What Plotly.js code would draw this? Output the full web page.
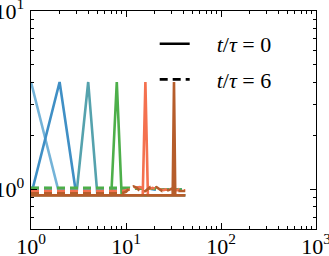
<!DOCTYPE html>
<html>
<head>
<meta charset="utf-8">
<script src="https://cdn.plot.ly/plotly-3.0.1.min.js"></script>
<style>html,body{margin:0;padding:0;background:#fff;}#chart{width:329px;height:256px;}</style>
</head>
<body>
<div id="chart"></div>
<script>
// Site index (x axis)
var sites = [1,2,3,4,5,6,7,8,9,10,11,12,13,14,15,16,17,18,19,20,21,22,23,24,25,26,27,28,29,30,31,32,33,34,35,36,37,38,39,40,41,42];

// Peak positions of each initial condition
var peakLabels = ['1','2','4','8','16','32'];
var colors = ['#74b3d8','#3f8fc5','#55a2ad','#4daf4a','#f4714f','#b65d2b'];

// t/tau = 0 (solid)
var solid1  = [4,0.927,0.927,0.927,0.927,0.927,0.927,0.927,0.927,0.927,0.927,0.927,0.927,0.927,0.927,0.927,0.927,0.927,0.927,0.927,0.927,0.927,0.927,0.927,0.927,0.927,0.927,0.927,0.927,0.927,0.927,0.927,0.927,0.927,0.927,0.927,0.927,0.927,0.927,0.927,0.927,0.927];
var solid2  = [0.927,4,0.927,0.927,0.927,0.927,0.927,0.927,0.927,0.927,0.927,0.927,0.927,0.927,0.927,0.927,0.927,0.927,0.927,0.927,0.927,0.927,0.927,0.927,0.927,0.927,0.927,0.927,0.927,0.927,0.927,0.927,0.927,0.927,0.927,0.927,0.927,0.927,0.927,0.927,0.927,0.927];
var solid4  = [0.927,0.927,0.927,4,0.927,0.927,0.927,0.927,0.927,0.927,0.927,0.927,0.927,0.927,0.927,0.927,0.927,0.927,0.927,0.927,0.927,0.927,0.927,0.927,0.927,0.927,0.927,0.927,0.927,0.927,0.927,0.927,0.927,0.927,0.927,0.927,0.927,0.927,0.927,0.927,0.927,0.927];
var solid8  = [0.927,0.927,0.927,0.927,0.927,0.927,0.927,4,0.927,0.927,0.927,0.927,0.927,0.927,0.927,0.927,0.927,0.927,0.927,0.927,0.927,0.927,0.927,0.927,0.927,0.927,0.927,0.927,0.927,0.927,0.927,0.927,0.927,0.927,0.927,0.927,0.927,0.927,0.927,0.927,0.927,0.927];
var solid16 = [0.927,0.927,0.927,0.927,0.927,0.927,0.927,0.927,0.927,0.927,0.927,0.927,0.927,0.927,0.927,4,0.927,0.927,0.927,0.927,0.927,0.927,0.927,0.927,0.927,0.927,0.927,0.927,0.927,0.927,0.927,0.927,0.927,0.927,0.927,0.927,0.927,0.927,0.927,0.927,0.927,0.927];
var solid32 = [0.927,0.927,0.927,0.927,0.927,0.927,0.927,0.927,0.927,0.927,0.927,0.927,0.927,0.927,0.927,0.927,0.927,0.927,0.927,0.927,0.927,0.927,0.927,0.927,0.927,0.927,0.927,0.927,0.927,0.927,0.927,4,0.927,0.927,0.927,0.927,0.927,0.927,0.927,0.927,0.927,0.927];

// t/tau = 6 (dashed)
var dashed1  = [1.02,1.01,1.01,1.01,1.01,1.01,1.01,1.01,1.01,1.01,1.01,1.01,1.01,1.01,1.01,1.01,1.01,1.01,1.0,1.0,1.0,1.0,1.0,1.0,1.0,1.0,1.0,1.0,1.0,1.0,1.0,1.0,1.0,1.0,1.0,1.0,1.0,1.0,1.0,1.0,1.0,1.0];
var dashed2  = [1.01,1.01,1.01,1.01,1.01,1.01,1.01,1.01,1.01,1.01,1.01,1.01,1.01,1.01,1.01,1.01,1.01,1.01,1.01,1.0,1.0,1.0,1.0,1.0,1.0,1.0,1.0,1.0,1.0,1.0,1.0,1.0,1.0,1.0,1.0,1.0,1.0,1.0,1.0,1.0,1.0,1.0];
var dashed4  = [1.01,1.01,1.01,1.01,1.01,1.01,1.01,1.01,1.01,1.01,1.01,1.01,1.01,1.01,1.01,1.01,1.01,1.01,1.01,1.01,1.0,1.0,1.0,1.0,1.0,1.0,1.0,1.0,1.0,1.0,1.0,1.0,1.0,1.0,1.0,1.0,1.0,1.0,1.0,1.0,0.99,0.99];
var dashed8  = [1.02,1.02,1.02,1.02,1.02,1.02,1.02,1.02,1.02,1.02,1.02,1.01,1.01,1.01,1.01,1.01,1.01,1.01,1.01,1.01,1.01,1.0,1.0,1.0,1.0,1.0,1.0,1.0,1.0,1.0,1.0,1.0,1.0,1.0,1.0,1.0,1.0,1.0,1.0,1.0,1.0,1.0];
var dashed16 = [0.98,0.98,0.98,0.98,0.98,0.98,0.98,0.98,0.98,0.99,1.0,1.02,1.03,1.03,1.02,1.03,1.02,1.01,1.02,1.01,1.0,0.99,1.0,0.99,0.99,1.0,0.99,0.99,1.0,0.99,0.99,1.0,0.99,0.99,0.99,1.0,0.99,0.99,0.99,0.99,0.99,0.99];
var dashed32 = [0.95,0.95,0.95,0.95,0.95,0.95,0.95,0.95,0.95,0.97,1.02,1.04,1.02,0.98,0.97,0.98,1.0,1.03,1.03,1.02,1.03,1.01,0.99,0.98,0.99,0.99,0.99,0.99,1.0,1.01,1.02,1.02,1.01,0.99,0.98,0.98,0.98,0.98,0.98,0.98,0.98,0.98];

var solids = [solid1, solid2, solid4, solid8, solid16, solid32];
var dasheds = [dashed1, dashed2, dashed4, dashed8, dashed16, dashed32];

var xTickVals = [1,10,100,1000];
var xTickText = ['10<sup>0</sup>','10<sup>1</sup>','10<sup>2</sup>','10<sup>3</sup>'];
var yTickVals = [1,10];
var yTickText = ['10<sup>0</sup>','10<sup>1</sup>'];
var legendLabels = ['\u00a0\u00a0\u00a0\u00a0<i>t</i>/<i>τ</i> = 0','\u00a0\u00a0\u00a0\u00a0<i>t</i>/<i>τ</i> = 6'];

var FONT = 'Liberation Serif';
var traces = [];
for (var i = 0; i < solids.length; i++) {
  traces.push({x: sites, y: solids[i], mode: 'lines', name: 'peak ' + peakLabels[i] + ' t0',
    line: {color: colors[i], width: 2.6}, showlegend: false, hoverinfo: 'skip'});
  traces.push({x: sites, y: dasheds[i], mode: 'lines', name: 'peak ' + peakLabels[i] + ' t6',
    line: {color: colors[i], width: 2.6, dash: '8px,5px'}, showlegend: false, hoverinfo: 'skip'});
}
traces.push({x: [null], y: [null], mode: 'lines', name: legendLabels[0], legendgroup: 'a',
  line: {color: 'black', width: 2.6}});
traces.push({x: [null], y: [null], mode: 'lines', name: legendLabels[1], legendgroup: 'b',
  line: {color: 'black', width: 2.6, dash: '8px,5px'}});

function makeAxis(vals, text, range, standoff) {
  return {
    type: 'log', range: range, autorange: false,
    showline: true, linecolor: 'black', linewidth: 1.3, mirror: 'ticks',
    ticks: 'inside', ticklen: 6, tickwidth: 1, tickcolor: 'black',
    tickmode: 'array', tickvals: vals, ticktext: text, ticklabelstandoff: standoff,
    ticklabeloverflow: 'allow',
    tickfont: {family: FONT, size: 22, color: 'black'},
    minor: {ticks: 'inside', dtick: 'D1', ticklen: 3, tickwidth: 1, tickcolor: 'black', showgrid: false},
    showgrid: false, zeroline: false
  };
}

var layout = {
  width: 329, height: 256,
  font: {family: FONT, size: 22, color: 'black'},
  margin: {l: 31, r: 13, t: 11, b: 27, pad: 0},
  paper_bgcolor: 'white', plot_bgcolor: 'white',
  showlegend: true,
  xaxis: makeAxis(xTickVals, xTickText, [0, 3], -3),
  yaxis: makeAxis(yTickVals, yTickText, [-0.2218, 1], 1),
  legend: {x: 0.434, y: 0.945, xanchor: 'left', yanchor: 'top', bgcolor: 'rgba(0,0,0,0)',
    borderwidth: 0, tracegroupgap: 4, traceorder: 'grouped',
    font: {family: FONT, size: 22, color: 'black'}}
};

Plotly.newPlot('chart', traces, layout, {staticPlot: true, displayModeBar: false});
</script>
</body>
</html>
